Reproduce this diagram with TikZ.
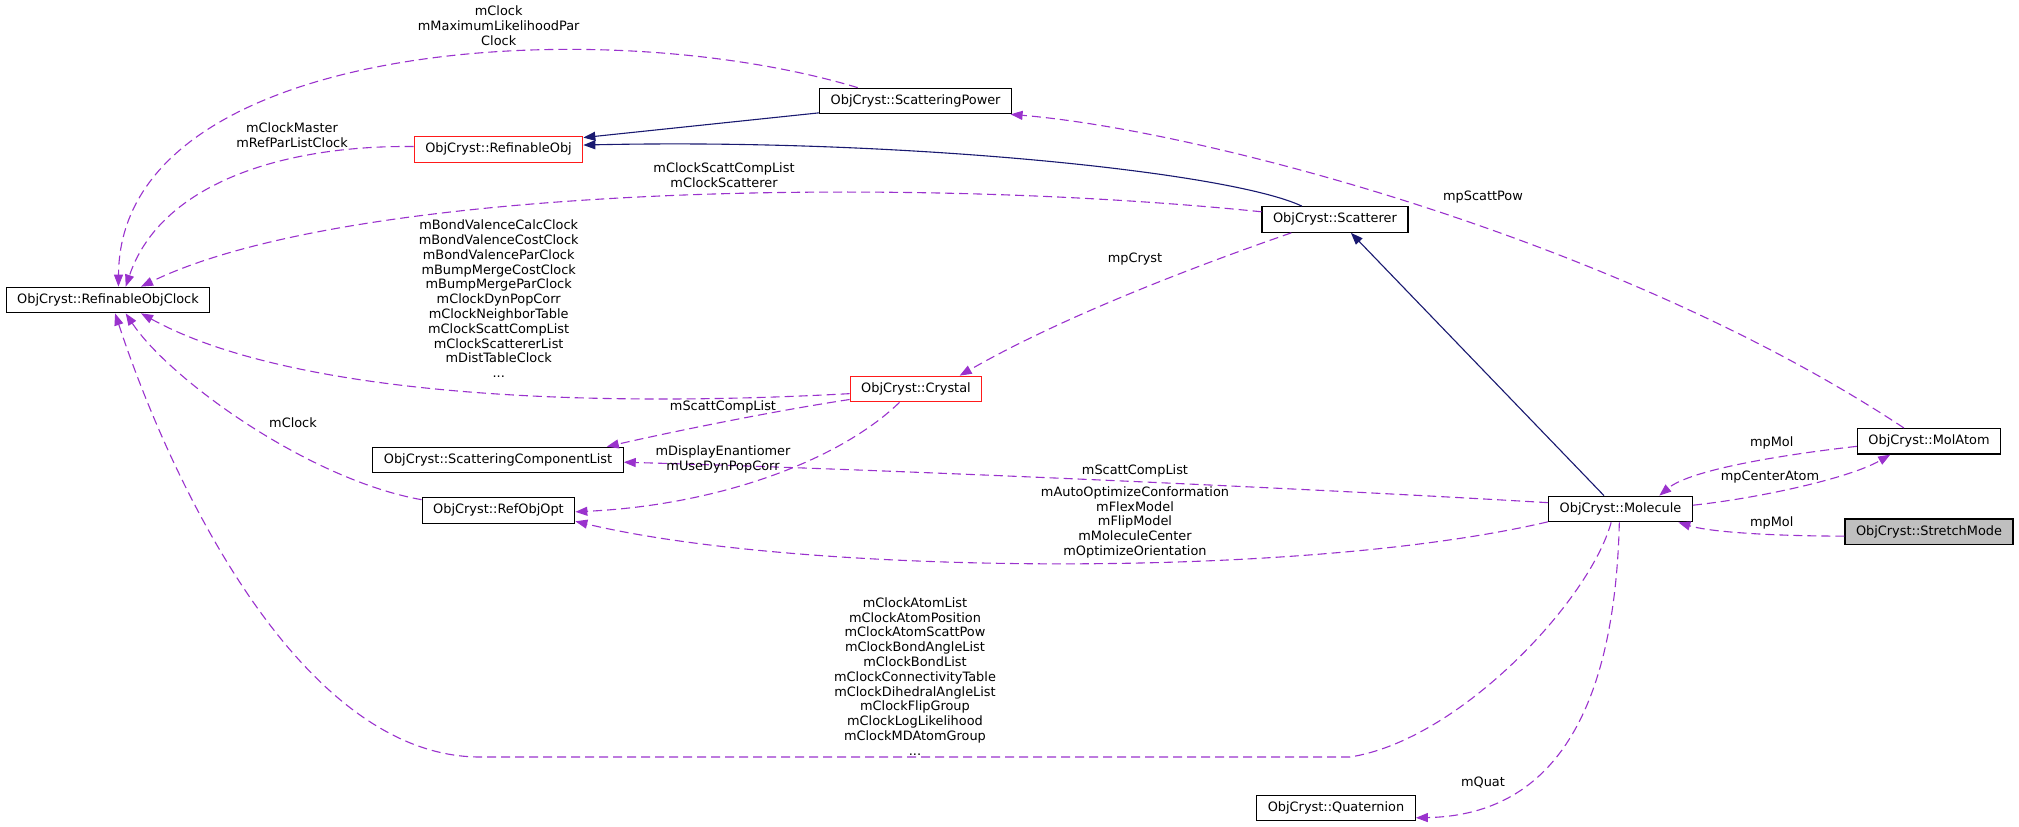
\documentclass[tikz,border=0pt]{standalone}
\usepackage{fontspec}
\setmainfont{DejaVu Sans}
\usepackage{xcolor}
\usepackage{tikz}
\usetikzlibrary{arrows.meta}
\definecolor{dxpurple}{HTML}{9A32CD}
\definecolor{dxnavy}{HTML}{191970}
\definecolor{dxred}{HTML}{FF1A1A}
\definecolor{dxgray}{HTML}{BFBFBF}

\begin{document}
\begin{tikzpicture}[
      x=1pt, y=-1pt,
      every node/.style={font=\fontsize{12.9}{14.8}\selectfont},
      box/.style={draw=black, line width=1.2pt, fill=white, inner xsep=11pt, inner ysep=0pt, minimum height=25.5pt, text height=9.8pt, text depth=3pt},
      redbox/.style={box, draw=dxred},
      selbox/.style={box, fill=dxgray},
      lbl/.style={align=center, inner sep=0pt},
      inh/.style={-{Triangle[length=12pt, width=9pt]}, dxnavy, line width=1.1pt},
      uses/.style={-{Triangle[length=12pt, width=9pt]}, dxpurple, line width=1.1pt, dash pattern=on 9pt off 5pt}
    ]
    \useasboundingbox (0,0) rectangle (2019,827);

    % classes
    \node[box]    (clock)     at (108,300)    {ObjCryst::RefinableObjClock};
    \node[redbox] (refobj)    at (498.5,149.5) {ObjCryst::RefinableObj};
    \node[box]    (scattpow)  at (915.6,101)  {ObjCryst::ScatteringPower};
    \node[box]    (scatterer) at (1335,219.5) {ObjCryst::Scatterer};
    \node[redbox] (crystal)   at (916,389)    {ObjCryst::Crystal};
    \node[box]    (scl)       at (498,460)    {ObjCryst::ScatteringComponentList};
    \node[box]    (refopt)    at (498.5,510.5) {ObjCryst::RefObjOpt};
    \node[box]    (molecule)  at (1620.5,509) {ObjCryst::Molecule};
    \node[box]    (molatom)   at (1929,441.3) {ObjCryst::MolAtom};
    \node[selbox] (stretch)   at (1929,531.7) {ObjCryst::StretchMode};
    \node[box]    (quat)      at (1336,808)   {ObjCryst::Quaternion};

    % inheritance
    \draw[inh] (scattpow.187) -- (refobj.8);
    \draw[inh] (scatterer.158) .. controls (1230,172) and (900,138) .. (refobj.3);
    \draw[inh] (molecule.141) -- (scatterer.-40);

    % usage
    \draw[uses] (scattpow.167) .. controls (600,10) and (120,40) .. (clock.52);
    \draw[uses] (refobj.178) .. controls (280,145) and (160,185) .. (clock.37);
    \draw[uses] (scatterer.174) .. controls (900,175) and (350,185) .. (clock.22);
    \draw[uses] (crystal.184) .. controls (550,410) and (280,390) .. (clock.-22);
    \draw[uses] (refopt.172) .. controls (310,480) and (170,380) .. (clock.-37);
    \draw[uses] (molecule.-125) .. controls (1590,600) and (1460,740) .. (1350,757)
                -- (480,757) .. controls (300,757) and (170,480) .. (clock.-62);
    \draw[uses] (scatterer.197) .. controls (1190,268) and (1060,318) .. (crystal.17);
    \draw[uses] (crystal.189) .. controls (780,410) and (680,430) .. (scl.7);
    \draw[uses] (crystal.219) .. controls (840,460) and (720,505) .. (refopt.-1);
    \draw[uses] (molecule.175) .. controls (1300,488) and (900,470) .. (scl.-1);
    \draw[uses] (molecule.190) .. controls (1300,580) and (800,575) .. (refopt.-8);
    \draw[uses] (molecule.-95) .. controls (1615,700) and (1560,815) .. (quat.-7);
    \draw[uses] (molatom.152) .. controls (1620,240) and (1200,130) .. (scattpow.-8);
    \draw[uses] (molatom.184) .. controls (1780,455) and (1690,470) .. (molecule.19);
    \draw[uses] (molecule.3) .. controls (1760,498) and (1850,478) .. (molatom.199);
    \draw[uses] (stretch.183) .. controls (1770,536) and (1710,532) .. (molecule.-13);

    % member names
    \node[lbl] (lPowClk) at (498.7,25.5) {mClock\\mMaximumLikelihoodPar\\Clock};
    \node[lbl] (lObjClk) at (292,135.5) {mClockMaster\\mRefParListClock};
    \node[lbl] (lScaClk) at (724,175.5) {mClockScattCompList\\mClockScatterer};
    \node[lbl] (lCryClk) at (498.7,298.8) {mBondValenceCalcClock\\mBondValenceCostClock\\mBondValenceParClock\\mBumpMergeCostClock\\mBumpMergeParClock\\mClockDynPopCorr\\mClockNeighborTable\\mClockScattCompList\\mClockScattererList\\mDistTableClock\\...};
    \node[lbl] (lOptClk) at (293,423) {mClock};
    \node[lbl] (lMolClk) at (915,676.4) {mClockAtomList\\mClockAtomPosition\\mClockAtomScattPow\\mClockBondAngleList\\mClockBondList\\mClockConnectivityTable\\mClockDihedralAngleList\\mClockFlipGroup\\mClockLogLikelihood\\mClockMDAtomGroup\\...};
    \node[lbl] (lCryst)  at (1135,259) {mpCryst};
    \node[lbl] (lCrySCL) at (723,406.7) {mScattCompList};
    \node[lbl] (lCryOpt) at (723,459.5) {mDisplayEnantiomer\\mUseDynPopCorr};
    \node[lbl] (lMolSCL) at (1135,470.7) {mScattCompList};
    \node[lbl] (lMolOpt) at (1135,522.3) {mAutoOptimizeConformation\\mFlexModel\\mFlipModel\\mMoleculeCenter\\mOptimizeOrientation};
    \node[lbl] (lQuat)   at (1483,782.7) {mQuat};
    \node[lbl] (lPow)    at (1483,196.7) {mpScattPow};
    \node[lbl] (lMolA)   at (1771.7,443.3) {mpMol};
    \node[lbl] (lCenter) at (1770,476.7) {mpCenterAtom};
    \node[lbl] (lStr)    at (1771.7,523.3) {mpMol};
  \end{tikzpicture}
\end{document}
